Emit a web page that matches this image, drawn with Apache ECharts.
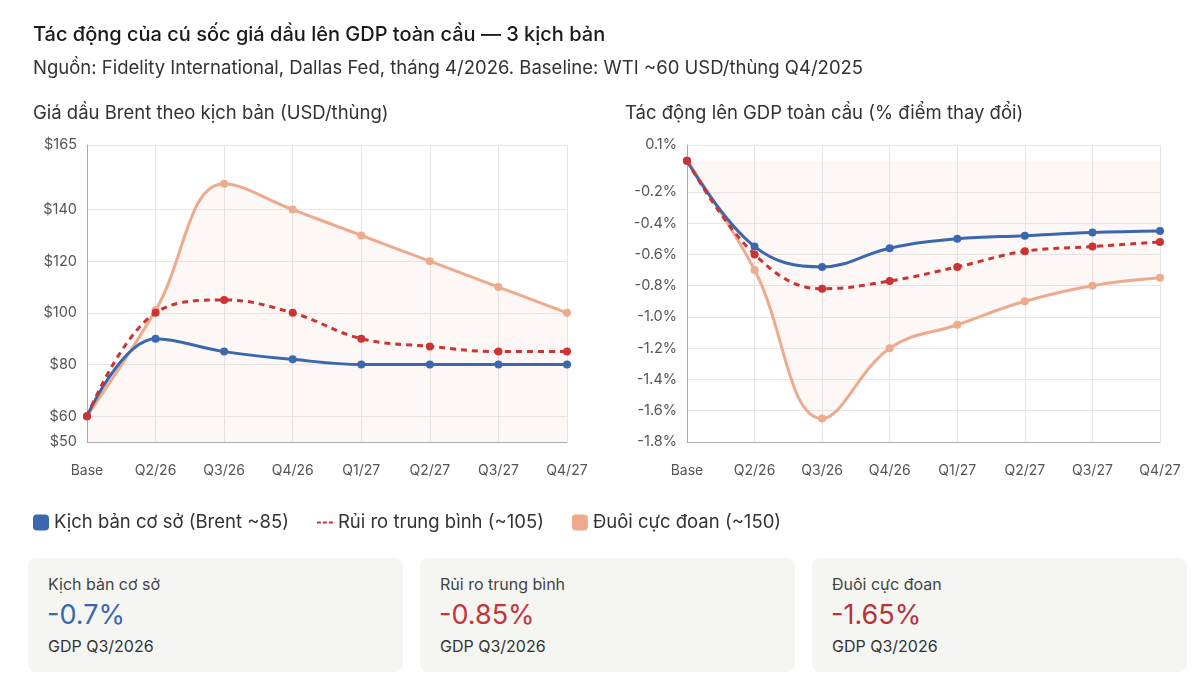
<!DOCTYPE html>
<html><head><meta charset="utf-8">
<script src="https://cdn.jsdelivr.net/npm/echarts@6/dist/echarts.min.js"></script>
<style>
body{margin:0;background:#fff;font-family:Inter,"Noto Sans",sans-serif;color:#222;}
#c{position:absolute;left:0;top:0;width:1200px;height:545px;}
.card{position:absolute;top:558px;width:375px;height:114px;background:#f5f5f2;border-radius:8px;}
.card .a{position:absolute;left:20px;top:16px;font-size:16px;color:#444;}
.card .b{position:absolute;left:19px;top:40px;font-size:27px;}
.card .c{position:absolute;left:20px;top:78px;font-size:16px;color:#333;}
</style></head><body>
<div id="c"></div>
<div class="card" style="left:28px"><div class="a">Kịch bản cơ sở</div><div class="b" style="color:#3a67ae">-0.7%</div><div class="c">GDP Q3/2026</div></div>
<div class="card" style="left:420px"><div class="a">Rủi ro trung bình</div><div class="b" style="color:#c8323a">-0.85%</div><div class="c">GDP Q3/2026</div></div>
<div class="card" style="left:812px"><div class="a">Đuôi cực đoan</div><div class="b" style="color:#b8323a">-1.65%</div><div class="c">GDP Q3/2026</div></div>
<script>
const categories=['Base','Q2/26','Q3/26','Q4/26','Q1/27','Q2/27','Q3/27','Q4/27'];
const brentBase=[60,90,85,82,80,80,80,80];
const brentMid=[60,100,105,100,90,87,85,85];
const brentTail=[60,101,150,140,130,120,110,100];
const gdpBase=[0,-0.55,-0.68,-0.56,-0.5,-0.48,-0.46,-0.45];
const gdpMid=[0,-0.6,-0.82,-0.77,-0.68,-0.58,-0.55,-0.52];
const gdpTail=[0,-0.7,-1.65,-1.2,-1.05,-0.9,-0.8,-0.75];
const brentTicks=[50,60,80,100,120,140,165];
const gdpTicks=[-1.8,-1.6,-1.4,-1.2,-1.0,-0.8,-0.6,-0.4,-0.2,0.1];
const C={base:'#3a67ae',mid:'#cc3333',tail:'#eeaa8c'};
const ch=echarts.init(document.getElementById('c'));
const font='Inter';
function xAx(i){return {type:'category',gridIndex:i,data:categories,boundaryGap:false,
 axisLine:{onZero:false,lineStyle:{color:'#aaa'}},axisTick:{show:false},
 axisLabel:{color:'#555',fontSize:14,fontFamily:font,margin:22},
 splitLine:{show:true,lineStyle:{color:'#e6e6e6'}}};}
function yAx(i,min,max,ticks,fmt){return {type:'value',gridIndex:i,min,max,
 axisLine:{show:true,lineStyle:{color:'#aaa'}},axisTick:{show:false},splitLine:{show:false},
 axisLabel:{customValues:ticks,formatter:fmt,color:'#555',fontSize:14.5,fontFamily:font,margin:10}};}
function grid(ticks,i){return {type:'line',xAxisIndex:i,yAxisIndex:i,data:[],silent:true,z:0,zlevel:0,
 markLine:{silent:true,z:0,symbol:'none',label:{show:false},lineStyle:{color:'#e6e6e6',type:'solid',width:1},
 data:ticks.map(v=>({yAxis:v}))}};}
function ln(name,d,i,col,dash,area){return {name,type:'line',xAxisIndex:i,yAxisIndex:i,data:d,smooth:0.4,
 symbol:'circle',symbolSize:8,itemStyle:{color:col},
 lineStyle:{color:col,width:3,type:dash?[6,5]:'solid'},
 areaStyle:area?{color:'rgba(238,170,140,0.13)',origin:area}:undefined,z:dash?5:4};}
ch.setOption({
 animation:false,
 textStyle:{fontFamily:font},
 title:[
  {text:'Tác động của cú sốc giá dầu lên GDP toàn cầu — 3 kịch bản',left:28,top:20,textStyle:{fontSize:20,fontWeight:500,color:'#1a1a1a',fontFamily:font}},
  {text:'Nguồn: Fidelity International, Dallas Fed, tháng 4/2026. Baseline: WTI ~60 USD/thùng Q4/2025',left:28,top:54,textStyle:{fontSize:18.5,fontWeight:'normal',color:'#333',fontFamily:font}},
  {text:'Giá dầu Brent theo kịch bản (USD/thùng)',left:28,top:99,textStyle:{fontSize:18.5,fontWeight:'normal',color:'#333',fontFamily:font}},
  {text:'Tác động lên GDP toàn cầu (% điểm thay đổi)',left:620,top:99,textStyle:{fontSize:18.5,fontWeight:'normal',color:'#333',fontFamily:font}}],
 legend:{left:28,top:508,itemGap:28,itemWidth:16,itemHeight:16,textStyle:{fontSize:18.5,color:'#333',fontFamily:font},
  data:[{name:'Kịch bản cơ sở (Brent ~85)',icon:'roundRect'},
        {name:'Rủi ro trung bình (~105)',icon:'path://M0,6h8v4h-8zM12,6h8v4h-8zM24,6h8v4h-8z',itemStyle:{color:C.mid}},
        {name:'Đuôi cực đoan (~150)',icon:'roundRect'}]},
 grid:[{left:87,top:145,width:480,height:297},{left:687,top:145,width:473,height:297}],
 xAxis:[xAx(0),xAx(1)],
 yAxis:[yAx(0,50,165,brentTicks,v=>'$'+v),yAx(1,-1.8,0.1,gdpTicks,v=>v.toFixed(1)+'%')],
 series:[grid(brentTicks,0),grid(gdpTicks,1),
  ln('Đuôi cực đoan (~150)',brentTail,0,C.tail,false,'start'),
  ln('Kịch bản cơ sở (Brent ~85)',brentBase,0,C.base,false),
  ln('Rủi ro trung bình (~105)',brentMid,0,C.mid,true),
  ln('Đuôi cực đoan (~150)',gdpTail,1,C.tail,false,'auto'),
  ln('Kịch bản cơ sở (Brent ~85)',gdpBase,1,C.base,false),
  ln('Rủi ro trung bình (~105)',gdpMid,1,C.mid,true)]
});
</script></body></html>
